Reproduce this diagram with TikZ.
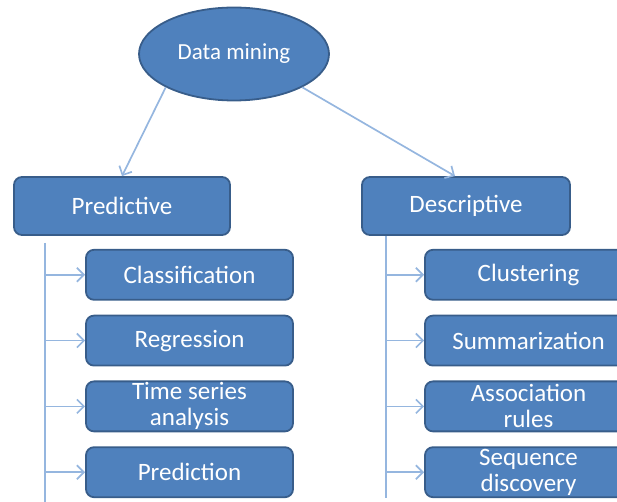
\documentclass[tikz,border=0pt]{standalone}
\usepackage{fontspec}
\setmainfont{Carlito}
\usetikzlibrary{shapes.geometric, positioning, arrows.meta}
\definecolor{boxblue}{HTML}{4F81BD}
\definecolor{boxedge}{HTML}{385D8A}
\definecolor{linkblue}{HTML}{95B6DF}

\begin{document}
\begin{tikzpicture}[x=1pt, y=1pt, node distance = 7pt and 20pt,
        box/.style={draw=boxedge, fill=boxblue, line width=0.9pt, rounded corners=4pt,
                    text=white, align=center, inner sep=0pt,
                    font=\fontsize{12.5}{13}\selectfont},
        kid/.style={box, minimum width=103.5pt, minimum height=25pt},
        link/.style={draw=linkblue, line width=0.85pt, -{Straight Barb[length=3.5pt,width=7pt]}},
        trunk/.style={draw=linkblue, line width=0.85pt}]
        \useasboundingbox (0,0) rectangle (308.5,-251);
        \clip (0,0) rectangle (308.5,-251);
        \node (dm) [ellipse, draw=boxedge, fill=boxblue, line width=0.9pt,
                    minimum width=95pt, minimum height=46.5pt, text=white,
                    font=\fontsize{11.5}{13}\selectfont] at (117,-27) {Data mining};
        \node (pred) [box, minimum width=108pt, minimum height=29pt] at (61,-103) {Predictive};
        \node (desc) [box, minimum width=104pt, minimum height=29pt] at (233,-103) {Descriptive};
        \draw[link] (dm.206) -- (pred.north);
        \draw[link] (dm.334) -- ([xshift=-5.5pt]desc.north);
        % predictive
        \node (p1) [kid, below right=6.5pt and 36pt of pred.south west] {Classification};
        \foreach \i/\t [count=\xi from 1] in {2/Regression, 3/{Time series\\analysis}, 4/Prediction}
            \node (p\i) [kid, below=of p\xi] {\t};
        \coordinate[below right=3.5pt and 16pt of pred.south west]  (ptop);
        \coordinate[below=130pt of ptop]  (pbot);
        \draw[trunk] (ptop) -- (pbot);
        \foreach \i in {1,...,4}
            \draw[link] (ptop |- p\i.west) -- (p\i.west);
        % descriptive
        \node (d1) [kid, below right=6.5pt and 31.5pt of desc.south west] {Clustering};
        \foreach \i/\t [count=\xi from 1] in {2/Summarization, 3/{Association\\rules}, 4/{Sequence\\discovery}}
            \node (d\i) [kid, below=of d\xi] {\t};
        \coordinate[right=12.5pt of desc.south west]  (dtop);
        \coordinate[below=131pt of dtop]  (dbot);
        \draw[trunk] (dtop) -- (dbot);
        \foreach \i in {1,...,4}
            \draw[link] (dtop |- d\i.west) -- (d\i.west);
        %
\end{tikzpicture}
\end{document}
